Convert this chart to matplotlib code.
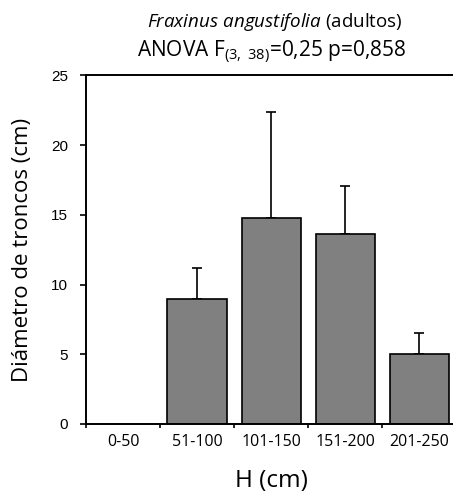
import matplotlib
matplotlib.use("Agg")
import matplotlib.pyplot as plt
import numpy as np

# data
classes = ["0-50", "51-100", "101-150", "151-200", "201-250"]
diam_mean = [0.0, 9.0, 14.8, 13.6, 5.0]
diam_err = [0.0, 2.2, 7.6, 3.5, 1.5]
y_ticks = [0, 5, 10, 15, 20, 25]

plt.rcParams["mathtext.fontset"] = "custom"
plt.rcParams["mathtext.rm"] = "Open Sans"
plt.rcParams["mathtext.it"] = "Open Sans:italic"

fig = plt.figure(figsize=(4.53, 4.98), dpi=100)
ax = fig.add_axes([0.190, 0.1486, 0.817, 0.700])

x = np.arange(len(classes))
has_bar = [m > 0 for m in diam_mean]
xb = x[has_bar]
mb = np.array(diam_mean)[has_bar]
eb = np.array(diam_err)[has_bar]

ax.bar(xb, mb, width=0.8, color="#808080", edgecolor="black", linewidth=1.2, zorder=2)
ax.errorbar(xb, mb, yerr=[np.zeros_like(eb), eb], fmt="none", ecolor="black",
            elinewidth=1.2, capsize=3.5, capthick=1.2, zorder=1)

ax.set_xlim(-0.5, 4.5)
ax.set_ylim(0, 25)
ax.set_yticks(y_ticks)
ax.set_yticklabels([str(t) for t in y_ticks], family="Liberation Sans", fontsize=11)
ax.set_xticks(x)
ax.set_xticklabels(classes, family="Open Sans", fontsize=11.5)
ax.tick_params(axis="x", length=0, pad=7)
ax.set_xticks(np.arange(-0.5, 4.6, 1.0), minor=True)
ax.tick_params(axis="x", which="minor", length=3, width=1.2, direction="out")
ax.tick_params(axis="y", length=4, width=1.2, direction="out", pad=9)

for s in ["left", "bottom", "top"]:
    ax.spines[s].set_linewidth(1.4)
ax.spines["right"].set_visible(False)

ax.set_ylabel("Diámetro de troncos (cm)", family="Open Sans", fontsize=16)
ax.yaxis.set_label_coords(-0.143, 0.5)
ax.set_xlabel("H (cm)", family="Open Sans", fontsize=17.5)
ax.xaxis.set_label_coords(0.5, -0.13)

fig.text(0.607, 0.956, r"$\it{Fraxinus\ angustifolia}$ (adultos)",
         family="Open Sans", fontsize=13.5, ha="center", va="center")
fig.text(0.600, 0.896, r"ANOVA F$_{(3,\ 38)}$=0,25 p=0,858",
         family="Open Sans", fontsize=15, ha="center", va="center")

fig.savefig("out.png", dpi=100)
